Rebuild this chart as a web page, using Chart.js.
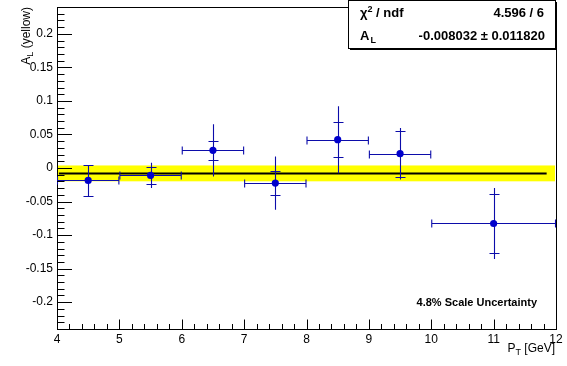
<!DOCTYPE html>
<html>
<head>
<meta charset="utf-8">
<script src="https://cdn.jsdelivr.net/npm/chart.js@4.4.0/dist/chart.umd.min.js"></script>
<style>
  html, body { margin: 0; padding: 0; background: #fff; }
</style>
</head>
<body>
<canvas id="asymChart" width="567" height="366"></canvas>
<script>
// Axis ticks
const xTickValues = [4, 5, 6, 7, 8, 9, 10, 11, 12];
const yTickValues = [-0.2, -0.15, -0.1, -0.05, 0, 0.05, 0.1, 0.15, 0.2];

// Measured points: pT bins and A_L (yellow)
const binCenter = [4.5, 5.5, 6.5, 7.5, 8.5, 9.5, 11];
const binLow    = [4, 5, 6, 7, 8, 9, 10];
const binHigh   = [5, 6, 7, 8, 9, 10, 12];
const asymValue = [-0.0185, -0.011, 0.0263, -0.0224, 0.0422, 0.0213, -0.0827];
const statErr   = [0.0231, 0.0187, 0.0388, 0.0397, 0.0500, 0.0385, 0.0530];
const sysErr    = [0.0231, 0.0130, 0.0146, 0.0182, 0.0260, 0.0340, 0.0436];

// Constant fit
const fitValue = -0.008032;
const fitError = 0.011820;
const fitRange = [4.03, 11.85];

// Stats box text
const statsLabels = ['χ', 'A'];
const statsValues = ['4.596 / 6', '-0.008032 ± 0.011820'];
const noteText = '4.8% Scale Uncertainty';

const FONT = '"Liberation Sans", Arial, Helvetica, sans-serif';
const BLUE = '#0c0caa';

// Draws ROOT-like band, fit line and error bars under the markers
const errorBarPlugin = {
    id: 'errorBars',
    beforeDatasetsDraw(chart) {
        const { ctx, chartArea, scales: { x, y } } = chart;
        ctx.save();
        ctx.beginPath();
        ctx.rect(chartArea.left, chartArea.top, chartArea.right - chartArea.left, chartArea.bottom - chartArea.top);
        ctx.clip();

        // yellow band = fit +- error
        const bTop = y.getPixelForValue(fitValue + fitError);
        const bBot = y.getPixelForValue(fitValue - fitError);
        ctx.fillStyle = '#ffff00';
        ctx.fillRect(chartArea.left + 1, bTop, chartArea.right - chartArea.left - 2, bBot - bTop);

        // fit line
        const fy = y.getPixelForValue(fitValue);
        ctx.strokeStyle = '#000';
        ctx.lineWidth = 2;
        ctx.beginPath();
        ctx.moveTo(x.getPixelForValue(fitRange[0]), fy);
        ctx.lineTo(x.getPixelForValue(fitRange[1]), fy);
        ctx.stroke();

        // error bars
        ctx.strokeStyle = BLUE;
        ctx.lineWidth = 1.1;
        binCenter.forEach((c, i) => {
            const px = Math.round(x.getPixelForValue(c)) + 0.5;
            const py = Math.round(y.getPixelForValue(asymValue[i])) + 0.5;
            const xl = x.getPixelForValue(binLow[i]);
            const xh = x.getPixelForValue(binHigh[i]);
            ctx.beginPath();
            ctx.moveTo(xl, py); ctx.lineTo(xh, py);
            ctx.moveTo(xl + 0.5, py - 4); ctx.lineTo(xl + 0.5, py + 4);
            ctx.moveTo(xh - 0.5, py - 4); ctx.lineTo(xh - 0.5, py + 4);
            // stat
            ctx.moveTo(px, y.getPixelForValue(asymValue[i] + statErr[i]));
            ctx.lineTo(px, y.getPixelForValue(asymValue[i] - statErr[i]));
            // sys ticks
            const st = Math.round(y.getPixelForValue(asymValue[i] + sysErr[i])) + 0.5;
            const sb = Math.round(y.getPixelForValue(asymValue[i] - sysErr[i])) + 0.5;
            ctx.moveTo(px - 5, st); ctx.lineTo(px + 5, st);
            ctx.moveTo(px - 5, sb); ctx.lineTo(px + 5, sb);
            ctx.stroke();
        });
        ctx.restore();
    },
    afterDraw(chart) {
        const { ctx, chartArea, scales: { x, y } } = chart;
        const L = chartArea.left, R = chartArea.right, T = chartArea.top, B = chartArea.bottom;
        ctx.save();

        // frame
        ctx.strokeStyle = '#000';
        ctx.lineWidth = 1;
        ctx.beginPath();
        ctx.moveTo(L + 0.5, T + 0.5); ctx.lineTo(R + 0.5, T + 0.5);
        ctx.lineTo(R + 0.5, B + 0.5);
        ctx.stroke();

        // inside ticks: y every 0.01, x every 0.2
        ctx.beginPath();
        for (let i = -24; i <= 24; i++) {
            const py = Math.round(y.getPixelForValue(i / 100)) + 0.5;
            const len = i % 5 === 0 ? 15 : 7.5;
            ctx.moveTo(L, py); ctx.lineTo(L + len, py);
        }
        for (let i = 20; i <= 60; i++) {
            const px = Math.round(x.getPixelForValue(i / 5)) + 0.5;
            const len = i % 5 === 0 ? 9.5 : 5;
            ctx.moveTo(px, B); ctx.lineTo(px, B - len);
        }
        ctx.stroke();

        // stats box
        const bx = 348, by = 0, bw = 207, bh = 48;
        ctx.fillStyle = '#fff';
        ctx.fillRect(bx, by, bw, bh);
        ctx.strokeRect(bx + 0.5, by + 0.5, bw, bh);
        ctx.fillStyle = '#000';
        ctx.fillRect(bx + 2, by + bh, bw, 2);
        ctx.fillRect(bx + bw, by + 2, 2, bh);

        ctx.fillStyle = '#000';
        ctx.textBaseline = 'alphabetic';
        ctx.textAlign = 'left';
        ctx.font = 'bold 13px ' + FONT;
        let tx = 360;
        ctx.fillText(statsLabels[0], tx, 17);
        tx += ctx.measureText(statsLabels[0]).width;
        ctx.font = 'bold 9px ' + FONT;
        ctx.fillText('2', tx, 12);
        tx += ctx.measureText('2').width;
        ctx.font = 'bold 13px ' + FONT;
        ctx.fillText(' / ndf', tx, 17);

        ctx.fillText(statsLabels[1], 360, 40);
        const aw = ctx.measureText(statsLabels[1]).width;
        ctx.font = 'bold 9px ' + FONT;
        ctx.fillText('L', 360 + aw + 1, 43);

        ctx.font = 'bold 13px ' + FONT;
        ctx.textAlign = 'right';
        ctx.fillText(statsValues[0], 544, 17);
        ctx.fillText(statsValues[1], 545, 40);

        // scale uncertainty note
        ctx.font = 'bold 11px ' + FONT;
        ctx.fillText(noteText, 537, 306);

        // x title P_T [GeV]
        ctx.textAlign = 'left';
        const rest = ' [GeV]';
        ctx.font = '12px ' + FONT;
        const wP = ctx.measureText('P').width;
        const wR = ctx.measureText(rest).width;
        ctx.font = '9px ' + FONT;
        const wT = ctx.measureText('T').width;
        const sx = 555 - (wP + wT + wR);
        ctx.font = '12px ' + FONT;
        ctx.fillText('P', sx, 352);
        ctx.font = '9px ' + FONT;
        ctx.fillText('T', sx + wP, 355);
        ctx.font = '12px ' + FONT;
        ctx.fillText(rest, sx + wP + wT, 352);

        // y title A_L (yellow), rotated
        ctx.translate(30, 7);
        ctx.rotate(-Math.PI / 2);
        const yRest = ' (yellow)';
        ctx.font = '12px ' + FONT;
        const wA = ctx.measureText('A').width;
        const wY = ctx.measureText(yRest).width;
        ctx.font = '9px ' + FONT;
        const wL = ctx.measureText('L').width;
        const ystart = -(wA + wL + wY);
        ctx.font = '12px ' + FONT;
        ctx.fillText('A', ystart, 0);
        ctx.font = '9px ' + FONT;
        ctx.fillText('L', ystart + wA, 3);
        ctx.font = '12px ' + FONT;
        ctx.fillText(yRest, ystart + wA + wL, 0);

        ctx.restore();
    }
};

new Chart(document.getElementById('asymChart'), {
    type: 'scatter',
    data: {
        datasets: [{
            label: 'A_L',
            data: binCenter.map((c, i) => ({ x: c, y: asymValue[i] })),
            pointRadius: 3.6,
            pointBackgroundColor: '#0000cc',
            pointBorderWidth: 0,
            showLine: false
        }]
    },
    options: {
        responsive: false,
        animation: false,
        layout: { padding: { top: 7, right: 11, left: 0, bottom: 0 } },
        plugins: { legend: { display: false }, tooltip: { enabled: false } },
        scales: {
            x: {
                type: 'linear',
                position: 'bottom',
                min: 4,
                max: 12,
                grid: { display: false, drawTicks: false, tickLength: 0 },
                border: { display: true, color: '#000', width: 1 },
                afterBuildTicks: s => { s.ticks = xTickValues.map(v => ({ value: v })); },
                afterFit: s => { s.height = 37; s.paddingLeft = 0; s.paddingRight = 0; },
                ticks: {
                    color: '#000',
                    font: { family: FONT, size: 12 },
                    padding: 3,
                    maxRotation: 0,
                    autoSkip: false,
                    callback: v => String(v)
                }
            },
            y: {
                type: 'linear',
                min: -0.24,
                max: 0.24,
                grid: { display: false, drawTicks: false, tickLength: 0 },
                border: { display: true, color: '#000', width: 1 },
                afterBuildTicks: s => { s.ticks = yTickValues.map(v => ({ value: v })); },
                afterFit: s => { s.width = 57; s.paddingTop = 0; s.paddingBottom = 0; },
                ticks: {
                    color: '#000',
                    font: { family: FONT, size: 12 },
                    padding: 4,
                    autoSkip: false,
                    callback: v => String(v)
                }
            }
        }
    },
    plugins: [errorBarPlugin]
});
</script>
</body>
</html>
